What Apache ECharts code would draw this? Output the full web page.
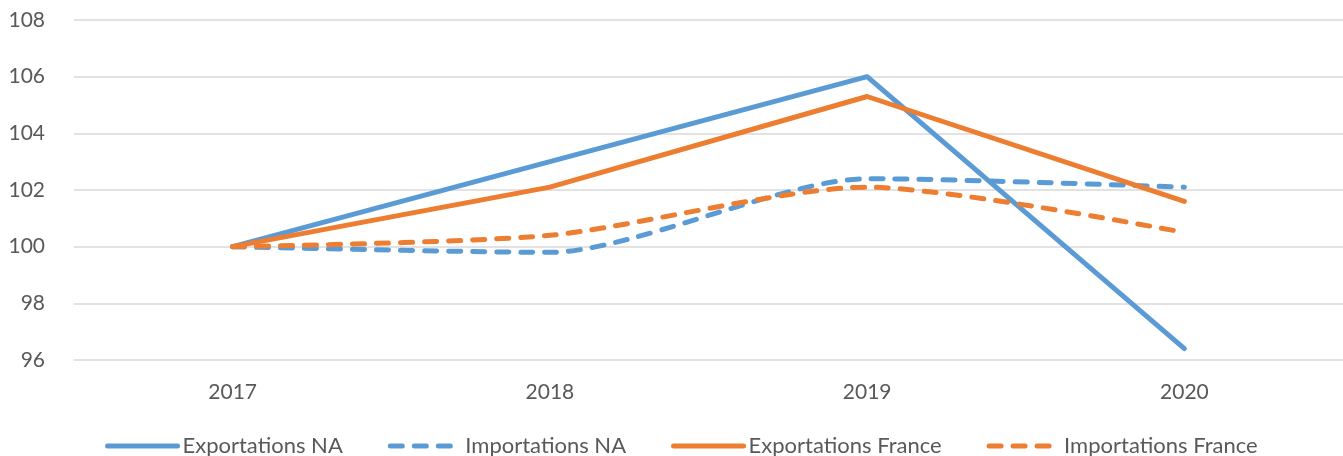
<!DOCTYPE html>
<html><head><meta charset="utf-8">
<script src="https://cdn.jsdelivr.net/npm/echarts@6/dist/echarts.min.js"></script>
<style>html,body{margin:0;padding:0;background:#fff}#c{width:1343px;height:456px}</style>
</head><body><div id="c"></div>
<script>
var categories = ['2017', '2018', '2019', '2020'];
var exportationsNA = [100, 103.0, 106.0, 96.4];
var importationsNA = [100, 99.8, 102.4, 102.1];
var exportationsFrance = [100, 102.1, 105.3, 101.6];
var importationsFrance = [100, 100.4, 102.1, 100.5];
var yTicks = {min: 96, max: 108, interval: 2};

var blue = '#5B9BD5', orange = '#ED7D31';
var FONT = 'Lato';
var chart = echarts.init(document.getElementById('c'));
function mk(name, data, color, dashed) {
  return {
    name: name, type: 'line', data: data, symbol: 'none', showSymbol: false,
    smooth: dashed ? 0.25 : false,
    lineStyle: {color: color, width: 5, type: dashed ? [12, 12] : 'solid', cap: 'round', join: 'round'},
    itemStyle: {color: color}
  };
}
chart.setOption({
  animation: false,
  grid: {left: 74, right: -7, top: 20, bottom: 96},
  xAxis: {
    type: 'category', data: categories, boundaryGap: true,
    axisLine: {show: false}, axisTick: {show: false},
    axisLabel: {color: '#595959', fontSize: 21, fontFamily: FONT, margin: 22}
  },
  yAxis: {
    type: 'value', min: yTicks.min, max: yTicks.max, interval: yTicks.interval,
    axisLine: {show: false}, axisTick: {show: false},
    splitLine: {lineStyle: {color: '#D9D9D9', width: 1.5}},
    axisLabel: {color: '#595959', fontSize: 21, fontFamily: FONT, margin: 29}
  },
  legend: {
    top: 430, left: 100, itemWidth: 70, itemHeight: 10, itemGap: 45,
    itemStyle: {opacity: 0},
    lineStyle: {width: 5},
    textStyle: {color: '#595959', fontSize: 22, fontFamily: FONT},
    data: ['Exportations NA', 'Importations NA', 'Exportations France', 'Importations France']
  },
  series: [
    mk('Exportations NA', exportationsNA, blue, false),
    mk('Importations NA', importationsNA, blue, true),
    mk('Exportations France', exportationsFrance, orange, false),
    mk('Importations France', importationsFrance, orange, true)
  ]
});
</script></body></html>
